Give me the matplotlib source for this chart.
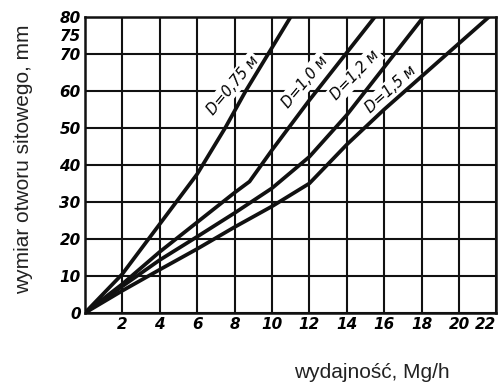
"""Wymiar otworu sitowego vs wydajność for several drum diameters."""

import matplotlib
matplotlib.use("Agg")
import matplotlib.pyplot as plt

# values
x_d075 = [0, 2, 4, 6, 7.5, 8.6, 9.8, 11]
y_d075 = [0, 10.5, 24, 37.5, 50, 60, 70, 80]

x_d100 = [0, 2, 4, 6, 8, 8.8, 10, 12, 15.5]
y_d100 = [0, 7.8, 16.5, 24.5, 32.5, 35.5, 44, 57.5, 80]

x_d120 = [0, 2, 4, 6, 8, 10, 12, 14, 18.1]
y_d120 = [0, 7.2, 14.3, 20.6, 27, 33.7, 42.2, 53.5, 80]

x_d150 = [0, 2, 4, 6, 8, 10, 12, 14, 16, 21.6]
y_d150 = [0, 6, 11.7, 17.3, 23.2, 28.8, 35, 45.5, 55, 80]

series = [
    (x_d075, y_d075, "D=0,75 м", (7.9, 61.5), 50),
    (x_d100, y_d100, "D=1,0 м", (11.75, 62.5), 50),
    (x_d120, y_d120, "D=1,2 м", (14.45, 64.3), 46),
    (x_d150, y_d150, "D=1,5 м", (16.35, 60.5), 42),
]

x_ticks = [2, 4, 6, 8, 10, 12, 14, 16, 18, 20, 22]
y_ticks = [0, 10, 20, 30, 40, 50, 60, 70, 80]

tick_font = dict(family="DejaVu Sans", style="italic", weight="bold", size=11)

fig = plt.figure(figsize=(5.02, 3.84), dpi=100)
ax = fig.add_axes([0.169, 0.185, 0.820, 0.771])

ax.set_xlim(0, 22)
ax.set_ylim(0, 80)

ax.set_xticks(x_ticks)
ax.set_xticklabels([str(v) for v in x_ticks], fontdict=tick_font)
ax.get_xticklabels()[-1].set_ha("right")
ax.set_yticks(y_ticks)
ax.set_yticklabels([str(v) for v in y_ticks], fontdict=tick_font)
ax.set_yticks([75], labels=["75"], minor=True)
for lab in ax.get_yticklabels(minor=True):
    lab.set(family="DejaVu Sans", style="italic", weight="bold", size=11)
ax.tick_params(which="both", length=0, pad=3)

ax.grid(True, which="major", color="#111111", linewidth=1.5)
ax.set_axisbelow(True)
for s in ax.spines.values():
    s.set_linewidth(1.8)
    s.set_color("#111111")

for xs, ys, label, pos, rot in series:
    ax.plot(xs, ys, color="#111111", linewidth=2.7, solid_capstyle="round", zorder=3)
    ax.text(pos[0], pos[1], label, rotation=rot, ha="center", va="center",
            fontsize=10.5, style="italic", family="DejaVu Sans",
            rotation_mode="anchor", zorder=2.5,
            bbox=dict(facecolor="white", edgecolor="none", pad=1.5))

fig.text(0.046, 0.586, "wymiar otworu sitowego, mm", rotation=90,
         ha="center", va="center", fontsize=15, family="Liberation Sans", color="#222222")
fig.text(0.741, 0.031, "wydajność, Mg/h", ha="center", va="center",
         fontsize=15, family="Liberation Sans", color="#222222")

fig.savefig("out.png", dpi=100)
